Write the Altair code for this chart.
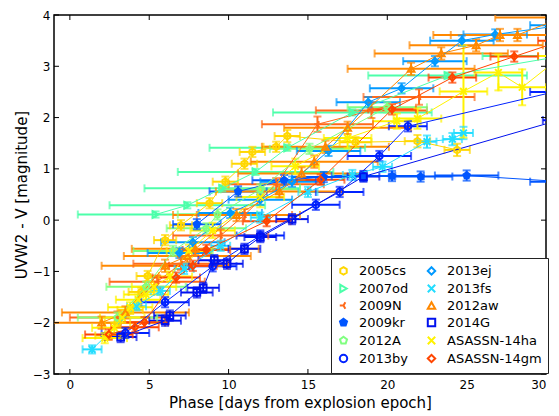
import altair as alt
import pandas as pd

W, H = 492, 359

NAMES = ["2005cs", "2007od", "2009N", "2009kr", "2012A", "2013by",
         "2013ej", "2013fs", "2012aw", "2014G", "ASASSN-14ha", "ASASSN-14gm"]
COLORS = ["#FFD700", "#4CFFAA", "#FF6A1A", "#0055FF", "#80FF80", "#0022FF",
          "#0099FF", "#22DDFF", "#FF8800", "#0011EE", "#FFF200", "#FF4500"]

HEX = "M0,-1L0.866,-0.5L0.866,0.5L0,1L-0.866,0.5L-0.866,-0.5Z"
PENT = "M0,-1L0.951,-0.309L0.588,0.809L-0.588,0.809L-0.951,-0.309Z"
XMARK = "M-1,-1L1,1M-1,1L1,-1"
TRI = "M0,0L-1,0M0,0L0.5,-0.866M0,0L0.5,0.866"
SHAPES = [HEX, "triangle-right", TRI, PENT, PENT, "circle",
          "diamond", XMARK, "triangle-up", "square", XMARK, "diamond"]
FILLS = ["transparent", "transparent", "transparent", "#0055FF", "transparent", "transparent",
         "transparent", "transparent", "transparent", "transparent", "transparent", "transparent"]

XTICKS = [0, 5, 10, 15, 20, 25, 30]
YTICKS = [-3, -2, -1, 0, 1, 2, 3, 4]

# ---- data (phase, colour, x error, y error) ----
X_05CS = [2.4, 3.0, 3.8, 4.5, 4.9, 6.0, 7.0, 8.8, 9.8, 11.0, 11.5, 13.0, 13.7, 18.0, 21.9, 24.4]
Y_05CS = [-2.25, -2.0, -1.75, -1.4, -1.09, -0.39, -0.1, 0.33, 0.75, 1.10, 1.33, 1.43, 1.64, 1.52, 1.54, 1.37]
XE_05CS = [0.8, 0.8, 0.8, 0.8, 0.7, 0.7, 0.7, 0.8, 0.8, 0.8, 0.8, 0.8, 0.8, 1.0, 0.8, 0.8]
YE_05CS = [0.08, 0.08, 0.08, 0.08, 0.1, 0.1, 0.1, 0.1, 0.1, 0.1, 0.1, 0.1, 0.12, 0.1, 0.12, 0.12]

X_07OD = [5.4, 7.4, 9.6, 11.7, 13.7, 17.8, 23.8, 31.0]
Y_07OD = [0.11, 0.29, 0.62, 0.94, 1.41, 2.10, 2.82, 3.20]
XE_07OD = [4.9, 4.9, 4.9, 4.9, 4.9, 5.0, 5.0, 5.0]
YE_07OD = [0.06, 0.06, 0.06, 0.06, 0.06, 0.06, 0.06, 0.06]

X_09N = [3.0, 5.5, 7.0, 9.5, 11.0, 13.0, 15.6, 19.0, 22.0]
Y_09N = [-1.9, -1.2, -0.85, -0.3, 0.1, 0.7, 1.87, 2.14, 2.4]
XE_09N = [3.0, 3.0, 3.0, 3.0, 3.0, 3.0, 3.5, 3.5, 3.5]
YE_09N = [0.12, 0.12, 0.12, 0.12, 0.12, 0.12, 0.15, 0.15, 0.15]

X_09KR = [8.0, 10.6, 13.5, 16.0, 18.5, 20.3, 22.1, 25.0, 31.0]
Y_09KR = [-0.08, 0.56, 0.78, 0.84, 0.86, 0.86, 0.85, 0.87, 0.75]
XE_09KR = [1.5, 1.8, 2.0, 2.0, 2.0, 2.0, 2.0, 2.0, 2.0]
YE_09KR = [0.1, 0.1, 0.1, 0.1, 0.1, 0.1, 0.1, 0.1, 0.1]

X_12A = [3.0, 4.8, 6.5, 8.6, 9.3, 12.0, 15.1, 20.0]
Y_12A = [-1.9, -1.3, -0.6, -0.16, 0.11, 0.6, 1.39, 2.2]
XE_12A = [2.5, 2.5, 2.5, 2.5, 2.5, 2.5, 2.5, 2.5]
YE_12A = [0.1, 0.1, 0.1, 0.1, 0.1, 0.1, 0.1, 0.1]

X_13BY = [3.5, 6.0, 9.0, 12.0, 15.5, 17.0, 19.5, 21.3, 30.5]
Y_13BY = [-2.2, -1.6, -0.9, -0.3, 0.3, 0.55, 1.25, 1.83, 2.5]
XE_13BY = [1.5, 1.5, 1.5, 1.5, 1.5, 1.5, 2.0, 1.2, 1.5]
YE_13BY = [0.1, 0.1, 0.1, 0.1, 0.1, 0.1, 0.1, 0.1, 0.1]

X_13EJ = [6.9, 7.75, 10.1, 12.0, 14.0, 16.3, 18.8, 20.9, 23.0, 24.7, 26.8, 31.0]
Y_13EJ = [-0.64, -0.43, 0.14, 0.40, 0.75, 1.35, 2.30, 2.57, 3.10, 3.50, 3.62, 3.80]
XE_13EJ = [2.0, 2.0, 2.0, 2.0, 2.0, 2.0, 2.0, 2.0, 2.0, 2.0, 2.0, 2.0]
YE_13EJ = [0.1, 0.1, 0.1, 0.1, 0.1, 0.1, 0.1, 0.1, 0.1, 0.1, 0.1, 0.1]

X_13FS = [1.4, 4.2, 5.7, 7.2, 9.5, 12.0, 15.0, 17.8, 19.7, 22.5, 24.1, 24.8]
Y_13FS = [-2.52, -1.68, -1.38, -0.95, -0.5, 0.05, 0.55, 0.88, 1.04, 1.53, 1.58, 1.70]
XE_13FS = [0.6, 0.6, 0.6, 0.6, 0.6, 0.6, 0.6, 0.6, 0.6, 0.6, 0.6, 0.6]
YE_13FS = [0.08, 0.08, 0.08, 0.1, 0.1, 0.1, 0.1, 0.1, 0.1, 0.12, 0.12, 0.12]

X_12AW = [2.0, 3.5, 6.0, 7.4, 7.9, 10.5, 13.2, 14.6, 15.4, 16.1, 17.5, 21.5, 23.4, 25.6, 27.1, 28.2, 31.0]
Y_12AW = [-2.0, -1.8, -0.89, -0.70, -0.56, 0.10, 0.56, 0.91, 1.14, 1.43, 1.80, 2.95, 3.25, 3.41, 3.61, 3.61, 3.95]
XE_12AW = [4.0, 4.0, 4.0, 4.0, 4.0, 4.0, 4.0, 4.0, 4.0, 4.0, 4.0, 4.0, 4.2, 4.2, 4.2, 4.2, 4.2]
YE_12AW = [0.12, 0.12, 0.12, 0.12, 0.12, 0.12, 0.12, 0.12, 0.12, 0.12, 0.12, 0.12, 0.12, 0.12, 0.12, 0.12, 0.12]

X_14G = [3.2, 6.0, 6.3, 8.0, 8.4, 9.1, 9.9, 11.0, 12.0, 14.0, 18.5, 30.8]
Y_14G = [-2.28, -1.96, -1.86, -1.41, -1.32, -0.78, -0.85, -0.56, -0.33, 0.02, 0.85, 1.95]
XE_14G = [1.0, 1.0, 1.0, 1.0, 1.0, 1.0, 1.0, 1.0, 1.0, 1.0, 1.0, 1.0]
YE_14G = [0.1, 0.1, 0.1, 0.1, 0.1, 0.1, 0.1, 0.1, 0.1, 0.1, 0.1, 0.1]

X_14HA = [2.2, 2.8, 3.3, 3.8, 4.3, 4.8, 5.3, 6.3, 7.5, 9.0, 12.0, 14.2, 17.5, 20.6, 21.9, 24.8, 27.0, 28.5, 31.0]
Y_14HA = [-2.3, -2.1, -1.9, -1.7, -1.55, -1.45, -1.3, -1.1, -0.6, -0.2, 0.45, 1.05, 1.6, 1.93, 1.98, 2.51, 2.88, 2.59, 3.2]
XE_14HA = [1.4, 1.4, 1.4, 1.4, 1.4, 1.4, 1.4, 1.4, 1.4, 1.4, 1.5, 1.5, 1.5, 1.5, 1.5, 1.5, 1.5, 1.5, 1.5]
YE_14HA = [0.1, 0.1, 0.1, 0.1, 0.1, 0.1, 0.1, 0.1, 0.12, 0.15, 0.2, 0.15, 0.2, 0.15, 0.2, 0.9, 0.35, 0.35, 0.4]

X_14GM = [2.46, 4.1, 4.7, 6.7, 7.75, 8.6, 12.4, 15.8, 20.3, 24.1, 28.0, 31.0]
Y_14GM = [-2.23, -2.09, -1.99, -1.12, -0.89, -0.58, -0.02, 0.79, 2.16, 2.78, 3.19, 3.50]
XE_14GM = [1.5, 1.5, 1.5, 1.5, 1.5, 1.5, 1.5, 1.5, 1.5, 1.5, 1.5, 1.5]
YE_14GM = [0.1, 0.1, 0.1, 0.1, 0.1, 0.1, 0.1, 0.1, 0.1, 0.1, 0.1, 0.1]

SERIES = [
    ("2005cs", X_05CS, Y_05CS, XE_05CS, YE_05CS),
    ("2007od", X_07OD, Y_07OD, XE_07OD, YE_07OD),
    ("2009N", X_09N, Y_09N, XE_09N, YE_09N),
    ("2009kr", X_09KR, Y_09KR, XE_09KR, YE_09KR),
    ("2012A", X_12A, Y_12A, XE_12A, YE_12A),
    ("2013by", X_13BY, Y_13BY, XE_13BY, YE_13BY),
    ("2013ej", X_13EJ, Y_13EJ, XE_13EJ, YE_13EJ),
    ("2013fs", X_13FS, Y_13FS, XE_13FS, YE_13FS),
    ("2012aw", X_12AW, Y_12AW, XE_12AW, YE_12AW),
    ("2014G", X_14G, Y_14G, XE_14G, YE_14G),
    ("ASASSN-14ha", X_14HA, Y_14HA, XE_14HA, YE_14HA),
    ("ASASSN-14gm", X_14GM, Y_14GM, XE_14GM, YE_14GM),
]

rows = []
for name, xs, ys, xes, yes in SERIES:
    for i, (x, y, xe, ye) in enumerate(zip(xs, ys, xes, yes)):
        rows.append(dict(sn=name, grp=name, x=x, y=y, xlo=x - xe, xhi=x + xe,
                         ylo=y - ye, yhi=y + ye, order=i))
df = pd.DataFrame(rows)

XS = alt.Scale(domain=[-1, 30], nice=False, zero=False)
YS = alt.Scale(domain=[-3, 4], nice=False, zero=False)
# reversed domain order so that this (legend-less) scale is not merged with the legend's
CS = alt.Scale(domain=NAMES[::-1], range=COLORS[::-1])

FONT = "DejaVu Sans"
XTITLE = "Phase [days from explosion epoch]"
YTITLE = "UVW2 - V [magnitude]"
xaxis = alt.Axis(values=XTICKS, tickSize=0, domain=False, grid=False, labelFontSize=12,
                 labelPadding=5, labelColor="black", labelFont=FONT,
                 title=XTITLE, titleFont=FONT,
                 titleFontSize=15, titleFontWeight="normal", titleColor="black",
                 titlePadding=5)
yaxis = alt.Axis(values=YTICKS, tickSize=0, domain=False, grid=False, labelFontSize=12,
                 labelPadding=4, labelColor="black", labelFont=FONT, format="d",
                 title=YTITLE, titleFont=FONT,
                 titleFontSize=15, titleFontWeight="normal", titleColor="black",
                 titlePadding=3)


def X(f):
    return alt.X(f, scale=XS, axis=xaxis, title=XTITLE)


def Y(f):
    return alt.Y(f, scale=YS, axis=yaxis, title=YTITLE)


legend = alt.Legend(title=None, orient="none", legendX=277, legendY=243, columns=2,
                    fillColor="white", strokeColor="#222222", padding=6,
                    labelFont=FONT, labelFontSize=13, labelColor="black",
                    symbolSize=55, symbolStrokeWidth=2, rowPadding=1,
                    columnPadding=14, labelOffset=9, cornerRadius=0)

base = alt.Chart(df)
col = alt.Color("grp:N", scale=CS, legend=None)

xbars = base.mark_rule(strokeWidth=2, clip=True).encode(
    x=X("xlo:Q"), x2="xhi:Q", y=Y("y:Q"), color=col)
ybars = base.mark_rule(strokeWidth=2, clip=True).encode(
    x=X("x:Q"), y=Y("ylo:Q"), y2="yhi:Q", color=col)
cap_l = base.mark_tick(orient="vertical", size=8, thickness=2, clip=True).encode(
    x=X("xlo:Q"), y=Y("y:Q"), color=col)
cap_r = base.mark_tick(orient="vertical", size=8, thickness=2, clip=True).encode(
    x=X("xhi:Q"), y=Y("y:Q"), color=col)
cap_b = base.mark_tick(orient="horizontal", size=8, thickness=2, clip=True).encode(
    x=X("x:Q"), y=Y("ylo:Q"), color=col)
cap_t = base.mark_tick(orient="horizontal", size=8, thickness=2, clip=True).encode(
    x=X("x:Q"), y=Y("yhi:Q"), color=col)
lines = base.mark_line(strokeWidth=1, clip=True).encode(
    x=X("x:Q"), y=Y("y:Q"), color=col, detail="grp:N", order="order:Q")
points = base.mark_point(filled=True, size=45, strokeWidth=2, opacity=1, clip=True).encode(
    x=X("x:Q"), y=Y("y:Q"),
    stroke=alt.Stroke("sn:N", scale=alt.Scale(domain=NAMES, range=COLORS), legend=legend),
    fill=alt.Fill("sn:N", scale=alt.Scale(domain=NAMES, range=FILLS), legend=legend),
    shape=alt.Shape("sn:N", scale=alt.Scale(domain=NAMES, range=SHAPES), legend=legend),
)

# inward ticks on all four sides
xt = alt.Chart(pd.DataFrame({"t": XTICKS}))
yt = alt.Chart(pd.DataFrame({"t": YTICKS}))
tk_b = xt.mark_rule(color="black", strokeWidth=1).encode(
    x=X("t:Q"), y=alt.value(H), y2=alt.value(H - 5))
tk_t = xt.mark_rule(color="black", strokeWidth=1).encode(
    x=X("t:Q"), y=alt.value(0), y2=alt.value(5))
tk_l = yt.mark_rule(color="black", strokeWidth=1).encode(
    y=Y("t:Q"), x=alt.value(0), x2=alt.value(5))
tk_r = yt.mark_rule(color="black", strokeWidth=1).encode(
    y=Y("t:Q"), x=alt.value(W), x2=alt.value(W - 5))

chart = alt.layer(
    xbars, ybars, cap_l, cap_r, cap_b, cap_t, lines, points,
    tk_b, tk_t, tk_l, tk_r,
).properties(
    width=W, height=H,
    padding={"left": 46, "top": 7, "right": 5, "bottom": 40},
    autosize=alt.AutoSizeParams(type="none"),
).configure_view(stroke="black", strokeWidth=1.5)

chart.save("out.html", embed_options={"renderer": "svg", "actions": False})
